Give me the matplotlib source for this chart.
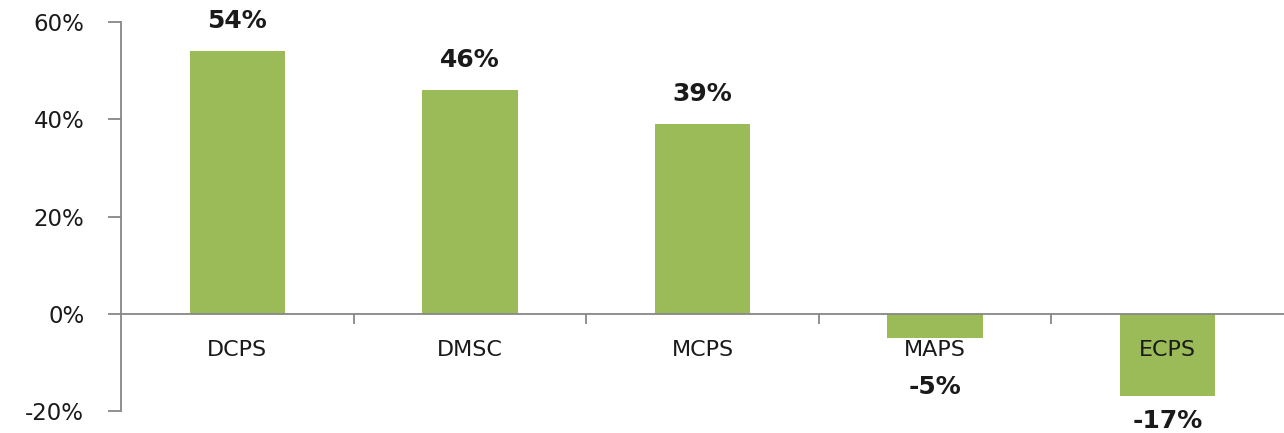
import numpy as np
import matplotlib
matplotlib.use('Agg')
import matplotlib.pyplot as plt
from matplotlib.ticker import FuncFormatter

# ── Data ─────────────────────────────────────────────────────────────────────
categories = ['DCPS', 'DMSC', 'MCPS', 'MAPS', 'ECPS']
values     = [54, 46, 39, -5, -17]
y_ticks    = [-20, 0, 20, 40, 60]

bar_col  = '#9BBB59'
axis_col = '#878787'
txt_col  = '#1a1a1a'

fig = plt.figure(figsize=(12.84, 4.33), dpi=100)
ax  = fig.add_axes([0.0942, 0.0508, 0.9058, 0.8984])

x = np.arange(len(categories))
ax.bar(x, values, width=0.41, color=bar_col, zorder=1)

ax.set_xlim(-0.5, len(categories) - 0.5)
ax.set_ylim(-20, 60)

# spines
for s in ['top', 'right']:
    ax.spines[s].set_visible(False)
ax.spines['bottom'].set_position(('data', 0))
for s in ['bottom', 'left']:
    ax.spines[s].set_color(axis_col)
    ax.spines[s].set_linewidth(1.3)

# y axis
ax.set_yticks(y_ticks)
ax.yaxis.set_major_formatter(FuncFormatter(lambda v, _: f'{v:.0f}%'))
ax.tick_params(axis='y', direction='out', length=9.4, width=1.3, color=axis_col,
               labelsize=16.5, labelcolor=txt_col, pad=17)

# x axis: labels at centres, tick marks at boundaries
ax.set_xticks(x)
ax.set_xticklabels(categories)
ax.tick_params(axis='x', which='major', length=0, labelsize=16,
               labelcolor=txt_col, pad=19)
ax.set_xticks(np.arange(0.5, len(categories) - 0.5, 1), minor=True)
ax.tick_params(axis='x', which='minor', direction='out', length=7,
               width=1.3, color=axis_col)

# value labels
for xi, v in zip(x, values):
    if v >= 0:
        ax.annotate(f'{v}%', (xi, v), xytext=(0, 30), textcoords='offset pixels',
                    ha='center', va='center', fontsize=18, fontweight='bold',
                    color=txt_col)
    else:
        # below the bar end, and clear of the category label
        y_lab = min(v - 5.0, -15.0)
        ax.text(xi, y_lab, f'{v}%', ha='center', va='center', fontsize=18,
                fontweight='bold', color=txt_col, clip_on=False)

fig.savefig('out.png', dpi=100)
